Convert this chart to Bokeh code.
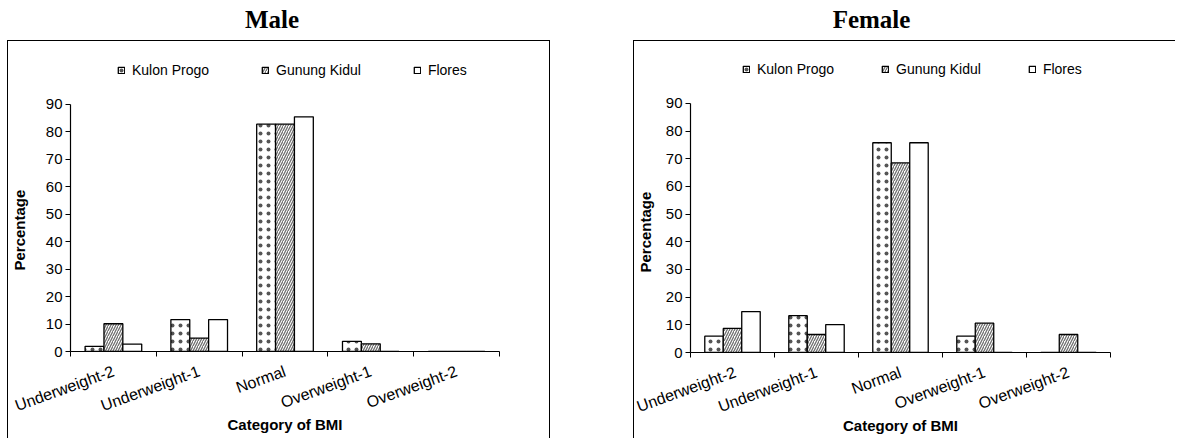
import numpy as np
from bokeh.plotting import figure
from bokeh.models import (Range1d, FixedTicker, Legend, LegendItem, Row, Column,
                          Div, Spacer, Title)
from bokeh.embed import file_html
from bokeh.resources import INLINE

# ---------------- data ----------------
categories = ["Underweight-2", "Underweight-1", "Normal", "Overweight-1", "Overweight-2"]
series_names = ["Kulon Progo", "Gunung Kidul", "Flores"]

male_kulon_progo = [1.9, 11.6, 82.7, 3.7, 0.0]
male_gunung_kidul = [10.1, 4.9, 82.7, 2.8, 0.0]
male_flores = [2.7, 11.6, 85.4, 0.0, 0.0]

female_kulon_progo = [5.9, 13.3, 75.8, 5.9, 0.0]
female_gunung_kidul = [8.7, 6.5, 68.5, 10.6, 6.5]
female_flores = [14.8, 10.1, 75.8, 0.0, 0.0]

y_ticks = [0, 10, 20, 30, 40, 50, 60, 70, 80, 90]

SANS = "Liberation Sans"
SERIF = "Liberation Serif"

styles = [
    dict(fill_color="white", hatch_pattern="dot", hatch_color="#555555",
         hatch_scale=8, hatch_weight=1.5),
    dict(fill_color="white", hatch_pattern="right_diagonal_line", hatch_color="#707070",
         hatch_scale=5, hatch_weight=1.3),
    dict(fill_color="white"),
]


def make_panel(series_values, width, height, mb_left, mb_right, mb_bottom, y_end,
               legend_loc, legend_spacing, gap_standoff, ylabel_offset, border_css):
    p = figure(width=width, height=height, output_backend="svg", toolbar_location=None,
               x_range=Range1d(0, len(categories)), y_range=Range1d(0, y_end),
               min_border_left=mb_left, min_border_right=mb_right,
               min_border_top=0, min_border_bottom=mb_bottom,
               background_fill_color="white", border_fill_color="white",
               styles=border_css)
    p.outline_line_color = None
    p.xgrid.visible = False
    p.ygrid.visible = False

    centers = np.arange(len(categories)) + 0.5
    bw = 0.22
    offsets = [-bw, 0.0, bw]
    renderers = []
    for vals, off, st in zip(series_values, offsets, styles):
        r = p.vbar(x=centers + off, top=vals, width=bw, bottom=0,
                   line_color="black", line_width=1.3, **st)
        renderers.append(r)

    # x axis: labels at category centres, tick marks at category boundaries
    xa = p.xaxis[0]
    xa.ticker = FixedTicker(ticks=list(centers),
                            minor_ticks=list(range(len(categories) + 1)))
    xa.major_label_overrides = {float(c): cat for c, cat in zip(centers, categories)}
    xa.major_tick_out = 0
    xa.major_tick_in = 0
    xa.minor_tick_out = 5
    xa.minor_tick_in = 0
    xa.minor_tick_line_color = "black"
    xa.major_label_orientation = 0.35
    xa.major_label_standoff = 14
    xa.major_label_text_font = SANS
    xa.major_label_text_font_size = "16px"
    xa.major_label_text_color = "black"
    xa.axis_label = "Category of BMI"
    xa.axis_label_text_font = SANS
    xa.axis_label_text_font_style = "bold"
    xa.axis_label_text_font_size = "15px"
    xa.axis_label_text_color = "black"
    xa.axis_label_standoff = -9
    xa.axis_line_color = "black"
    xa.axis_line_width = 1.2

    ya = p.yaxis[0]
    ya.ticker = FixedTicker(ticks=y_ticks, minor_ticks=[])
    ya.bounds = (0, 90)
    ya.major_tick_out = 5
    ya.major_tick_in = 0
    ya.major_label_standoff = 3
    ya.major_label_text_font = SANS
    ya.major_label_text_font_size = "15px"
    ya.major_label_text_color = "black"
    ya.axis_line_color = "black"
    ya.axis_line_width = 1.2
    # blank, tiny axis label: only widens the gap between tick labels and title
    ya.axis_label = " "
    ya.axis_label_text_font_size = "8px"
    ya.axis_label_standoff = gap_standoff

    # y-axis title, placed along the 0-90 axis rather than the whole frame
    p.add_layout(Title(text="Percentage", align="left", offset=ylabel_offset,
                       standoff=0, text_font=SANS,
                       text_font_style="bold", text_font_size="15px",
                       text_color="black"), "left")

    legend = Legend(
        items=[LegendItem(label=n, renderers=[r]) for n, r in zip(series_names, renderers)],
        orientation="horizontal", location=legend_loc, spacing=legend_spacing,
        padding=0, margin=0, glyph_width=8, glyph_height=8, label_standoff=7,
        border_line_alpha=0, background_fill_alpha=0,
        label_text_font=SANS, label_text_font_size="14px", label_text_color="black")
    p.add_layout(legend, "center")
    return p


def title_div(text, width, inner_width):
    return Div(text=(f'<div style="width:{inner_width}px;text-align:center;'
                     f"font-family:'{SERIF}';font-weight:bold;font-size:25px;"
                     f'line-height:40px;color:black;">{text}</div>'),
               width=width, height=40, margin=0)


BORDER = "1.5px solid black"

p1 = make_panel([male_kulon_progo, male_gunung_kidul, male_flores],
                width=543, height=398, mb_left=62, mb_right=52, mb_bottom=88,
                y_end=112.8, legend_loc=(47, 273), legend_spacing=52,
                gap_standoff=3, ylabel_offset=81,
                border_css={"border-top": BORDER, "border-left": BORDER,
                            "border-right": BORDER})
p2 = make_panel([female_kulon_progo, female_gunung_kidul, female_flores],
                width=542, height=398, mb_left=56, mb_right=66, mb_bottom=87,
                y_end=112.4, legend_loc=(52, 275), legend_spacing=47,
                gap_standoff=-3, ylabel_offset=80,
                border_css={"border-top": BORDER, "border-left": BORDER})

col1 = Column(children=[title_div("Male", 546, 530), p1], spacing=0)
col2 = Column(children=[title_div("Female", 543, 477), p2], spacing=0)

layout = Row(children=[Spacer(width=7), col1, Spacer(width=80), col2], spacing=0)

open("out.html", "w").write(file_html(layout, INLINE))
